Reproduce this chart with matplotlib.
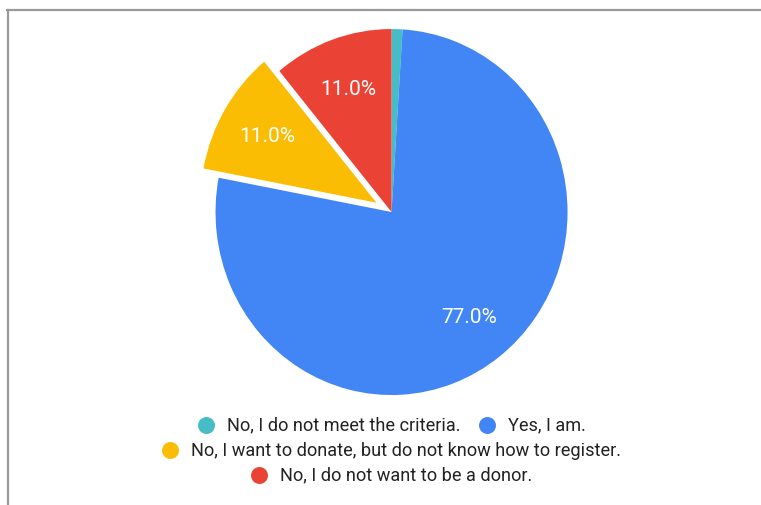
import matplotlib
matplotlib.use("Agg")
import matplotlib.pyplot as plt
from matplotlib.lines import Line2D

# Survey answers and their shares (percent)
labels = [
    "No, I do not meet the criteria.",
    "Yes, I am.",
    "No, I want to donate, but do not know how to register.",
    "No, I do not want to be a donor.",
]
shares = [1.0, 77.0, 11.0, 11.0]
colors = ["#46bdc6", "#4285f4", "#fbbc04", "#ea4335"]
explode = [0.0, 0.0, 0.1, 0.0]
legend_rows = [[0, 1], [2], [3]]

W, H = 761, 506
fig = plt.figure(figsize=(W / 100, H / 100), dpi=100)
fig.patch.set_facecolor("white")

def fx(px):
    return px / W

def fy(py):
    return (H - py) / H

# Pie axes: slightly wider-than-tall scaling of the unit circle
ax = fig.add_axes([0.2254, 0.1631, 0.5782, 0.8318])


def pct_label(p):
    return f"{p:.1f}%" if p >= 5 else ""


wedges, texts, autotexts = ax.pie(
    shares,
    colors=colors,
    explode=explode,
    startangle=90,
    counterclock=False,
    autopct=pct_label,
    pctdistance=0.72,
    wedgeprops=dict(linewidth=0),
    textprops=dict(color="white", fontsize=15, family="Roboto"),
)
ax.set_aspect("auto")
ax.set_xlim(-1.25, 1.25)
ax.set_ylim(-1.15, 1.15)
ax.axis("off")

# Frame lines along the top and left
fig.add_artist(Line2D([fx(7), fx(W)], [fy(10.5), fy(10.5)], color="#9a9a9a",
                      lw=1.6, transform=fig.transFigure))
fig.add_artist(Line2D([fx(8), fx(8)], [fy(10.5), fy(H)], color="#9a9a9a",
                      lw=1.6, transform=fig.transFigure))

# Centered, wrapped legend
renderer = fig.canvas.get_renderer()
row_y = [425.7, 450.7, 475.7]
center_x = 391.5
radius_px = 8.5
text_off = 21
gap = 18
for row, yy in zip(legend_rows, row_y):
    items = []
    for i in row:
        t = fig.text(0, fy(yy), labels[i], fontsize=13.1, family="Roboto",
                     color="#222222", va="center", ha="left")
        w = t.get_window_extent(renderer).width
        items.append((i, t, w))
    total = sum(radius_px + text_off + w for _, _, w in items) + gap * (len(items) - 1)
    x = center_x - total / 2
    for i, t, w in items:
        cx = x + radius_px
        fig.add_artist(Line2D([fx(cx)], [fy(yy)], marker="o", ms=12.2,
                              mfc=colors[i], mec="none", ls="none",
                              transform=fig.transFigure))
        t.set_x(fx(cx + text_off))
        x = cx + text_off + w + gap

fig.savefig("out.png", dpi=100, facecolor="white")
